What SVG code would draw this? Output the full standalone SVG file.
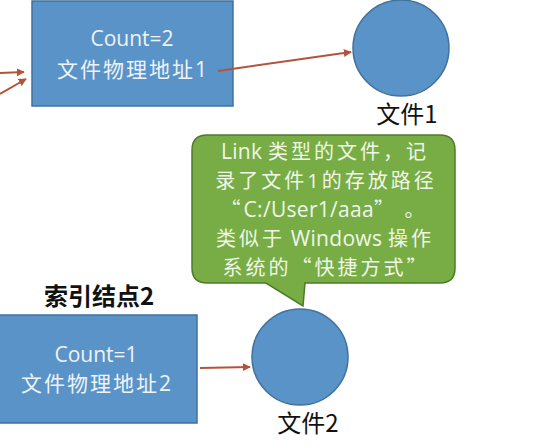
<svg xmlns="http://www.w3.org/2000/svg" width="539" height="448" viewBox="0 0 539 448">
<style>
.box{fill:#5a93c7;stroke:#41719c;stroke-width:1.5}
.circ{fill:#5a93c7;stroke:#41719c;stroke-width:1.5}
.wt{font-family:"Open Sans","Noto Sans CJK SC",sans-serif;font-size:21px;fill:#eef3f8;text-anchor:middle}
.lbl{font-family:"Noto Sans CJK SC",sans-serif;font-size:24px;fill:#111;text-anchor:middle}
.ct{font-family:"Open Sans","Noto Sans CJK SC",sans-serif;font-size:20px;letter-spacing:3px;fill:#f0f6ea;text-anchor:middle}
.la{font-size:21px;letter-spacing:0.3px}
.q{font-family:"Noto Sans CJK SC",sans-serif}
.arr{stroke:#b5533a;stroke-width:2;fill:none;marker-end:url(#ah)}
</style>
<defs>
<marker id="ah" viewBox="0 0 10 10" refX="9" refY="5" markerWidth="4" markerHeight="4" orient="auto" markerUnits="strokeWidth">
<path d="M0,0 L10,5 L0,10 z" fill="#b5533a"/>
</marker>
</defs>
<rect width="539" height="448" fill="#ffffff"/>
<g id="inode1">
<rect class="box" x="32" y="1" width="201" height="105"/>
<text class="wt" x="132" y="46">Count=2</text>
<text class="wt" x="133" y="77" letter-spacing="2">文件物理地址1</text>
</g>
<g id="file1">
<circle class="circ" cx="401" cy="48" r="48"/>
<text class="lbl" x="407" y="123">文件1</text>
</g>
<g id="callout">
<path d="M207,135 L440,135 Q455,135 455,150 L455,268 Q455,283 440,283 L305,283 L303,306 L266,283 L207,283 Q192,283 192,268 L192,150 Q192,135 207,135 Z" fill="#77ad44" stroke="#4f7a2b" stroke-width="1.5"/>
<text class="ct" x="325" y="159"><tspan class="la">Link </tspan>类型的文件，记</text>
<text class="ct" x="326" y="188">录了文件1的存放路径</text>
<text class="ct" x="324" y="217"><tspan class="q">“</tspan><tspan class="la">C:/User1/aaa</tspan><tspan class="q">” 。</tspan></text>
<text class="ct" x="325" y="246">类似于<tspan class="la"> Windows </tspan>操作</text>
<text class="ct" x="326" y="275">系统的<tspan class="q">“</tspan>快捷方式<tspan class="q">”</tspan></text>
</g>
<g id="inode2">
<text class="lbl" x="99" y="305" font-size="23" font-weight="bold">索引结点2</text>
<rect class="box" x="-2" y="315" width="199" height="108"/>
<text class="wt" x="96" y="362">Count=1</text>
<text class="wt" x="97" y="391" letter-spacing="2">文件物理地址2</text>
</g>
<g id="file2">
<circle class="circ" cx="300" cy="357" r="48"/>
<text class="lbl" x="308" y="432">文件2</text>
</g>
<g id="connectors">
<line class="arr" x1="0" y1="73" x2="24" y2="72"/>
<line class="arr" x1="0" y1="94" x2="26" y2="79"/>
<line class="arr" x1="218" y1="71" x2="351" y2="52"/>
<line class="arr" x1="200" y1="368" x2="250" y2="367"/>
</g>
</svg>
